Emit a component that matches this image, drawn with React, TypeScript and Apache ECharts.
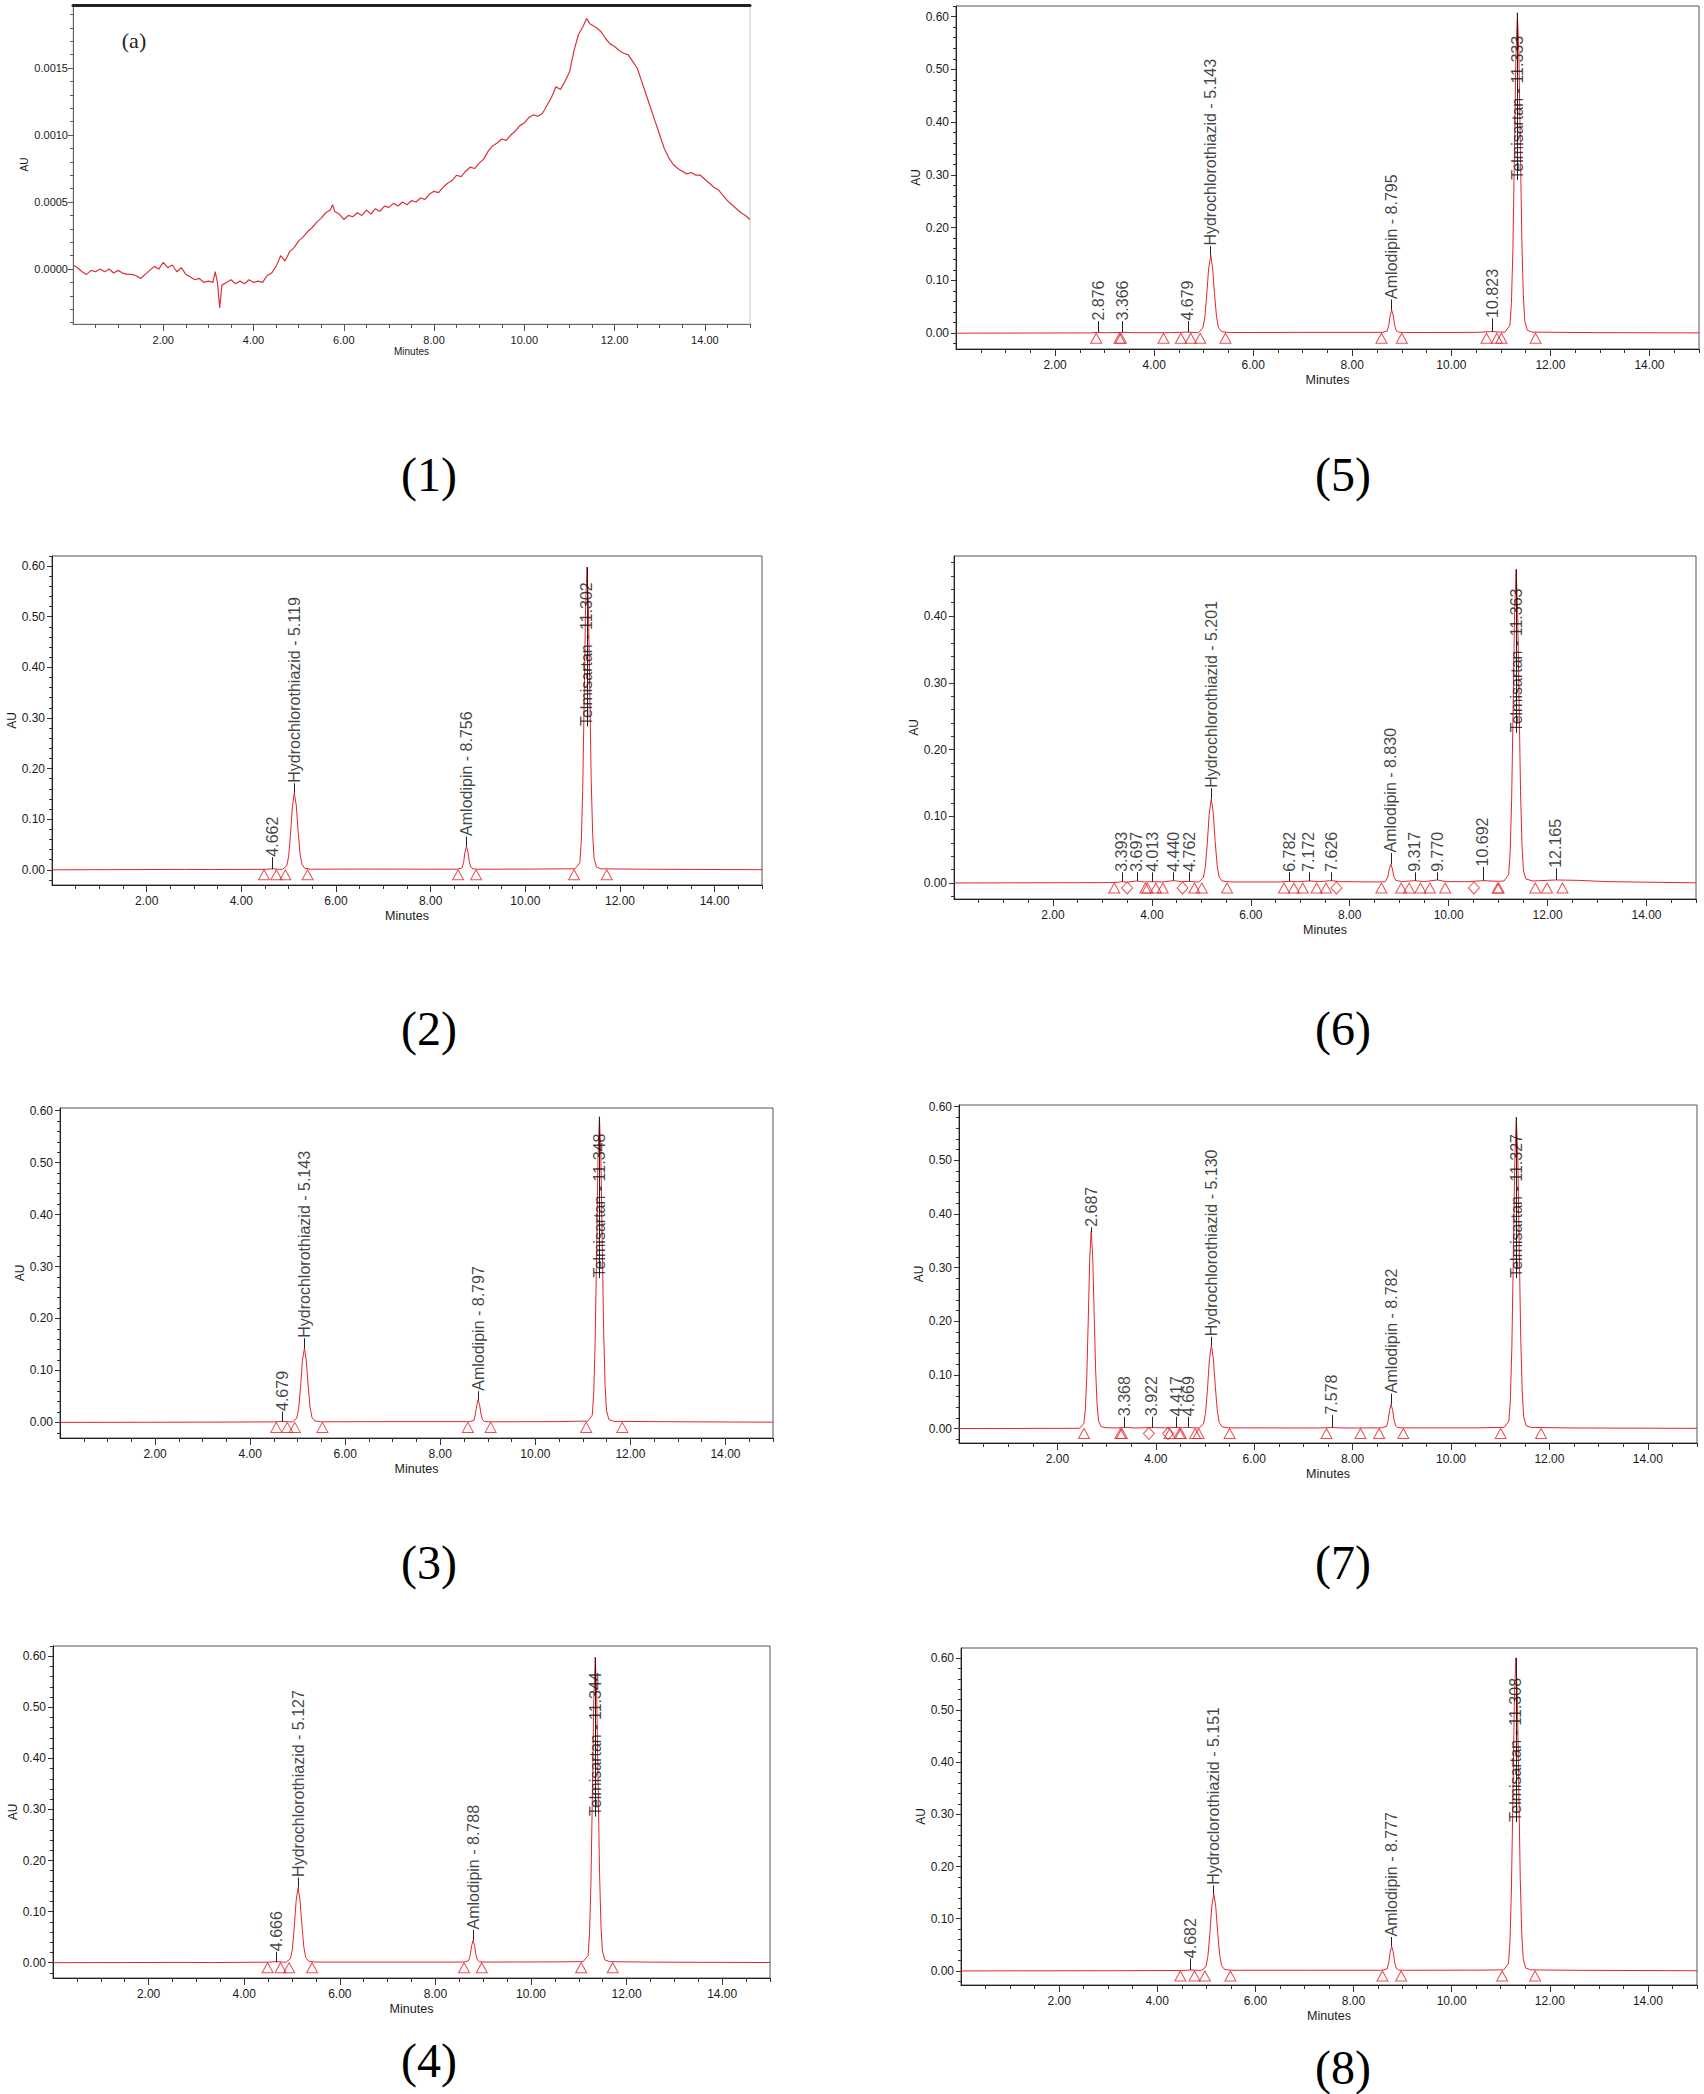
import React, { useEffect, useRef } from "react";
import * as echarts from "echarts";

// ---------- tick values ----------
const X_MAJOR = [2, 4, 6, 8, 10, 12, 14];
const X_MINOR = [0.5, 1, 1.5, 2, 2.5, 3, 3.5, 4, 4.5, 5, 5.5, 6, 6.5, 7, 7.5, 8, 8.5, 9, 9.5, 10, 10.5, 11, 11.5, 12, 12.5, 13, 13.5, 14, 14.5, 15];
const Y_MAJOR = [0, 0.1, 0.2, 0.3, 0.4, 0.5, 0.6];
const Y_MINOR = [-0.02, 0, 0.02, 0.04, 0.06, 0.08, 0.1, 0.12, 0.14, 0.16, 0.18, 0.2, 0.22, 0.24, 0.26, 0.28, 0.3, 0.32, 0.34, 0.36, 0.38, 0.4, 0.42, 0.44, 0.46, 0.48, 0.5, 0.52, 0.54, 0.56, 0.58, 0.6, 0.62];
const Y1_MAJOR = [0, 0.0005, 0.001, 0.0015];
const Y1_MINOR = [-0.0004, -0.0003, -0.0002, -0.0001, 0, 0.0001, 0.0002, 0.0003, 0.0004, 0.0005, 0.0006, 0.0007, 0.0008, 0.0009, 0.001, 0.0011, 0.0012, 0.0013, 0.0014, 0.0015, 0.0016, 0.0017, 0.0018, 0.0019];

// ---------- panel (1): blank ----------
const p1Trace = [
  [0, 0.00003], [0.1, 0.00001], [0.2, -0.00002], [0.3, -0.00004], [0.4, -0.00001], [0.5, -0.00002], [0.6, 0.0], [0.7, -0.00002], [0.8, 0.0], [0.9, -0.00003],
  [1.0, -0.00001], [1.1, -0.00003], [1.2, -0.00004], [1.3, -0.00004], [1.4, -0.00005], [1.5, -0.00007], [1.6, -0.00004], [1.7, -0.00001], [1.8, 0.00002], [1.9, 0.0],
  [2.0, 0.00005], [2.1, 0.00001], [2.2, 0.00003], [2.3, -0.00002], [2.4, 0.00001], [2.5, -0.00004], [2.6, -0.00006], [2.7, -0.00008], [2.8, -0.00007], [2.9, -0.0001],
  [3.0, -0.00009], [3.1, -0.0001], [3.15, -0.00002], [3.2, -0.0001], [3.25, -0.00029], [3.3, -0.00012], [3.4, -0.0001], [3.5, -0.00008], [3.6, -0.00011], [3.7, -0.00009],
  [3.8, -0.00011], [3.9, -0.00008], [4.0, -0.0001], [4.1, -0.00009], [4.2, -0.0001], [4.3, -0.00005], [4.4, -0.00003], [4.5, 0.00002], [4.6, 0.0001], [4.7, 0.00006],
  [4.8, 0.00013], [4.9, 0.00016], [5.0, 0.00021], [5.1, 0.00024], [5.2, 0.00028], [5.3, 0.00031], [5.4, 0.00035], [5.5, 0.00038], [5.6, 0.00042], [5.7, 0.00044],
  [5.75, 0.00048], [5.8, 0.00043], [5.9, 0.00041], [6.0, 0.00037], [6.1, 0.0004], [6.2, 0.00039], [6.3, 0.00042], [6.4, 0.0004], [6.5, 0.00044], [6.6, 0.00041],
  [6.7, 0.00045], [6.8, 0.00043], [6.9, 0.00047], [7.0, 0.00046], [7.1, 0.00049], [7.2, 0.00047], [7.3, 0.0005], [7.4, 0.00048], [7.5, 0.00051], [7.6, 0.0005],
  [7.7, 0.00053], [7.8, 0.00052], [7.9, 0.00056], [8.0, 0.00058], [8.1, 0.00057], [8.2, 0.00061], [8.3, 0.00064], [8.4, 0.00066], [8.5, 0.0007], [8.6, 0.00069],
  [8.7, 0.00073], [8.8, 0.00076], [8.9, 0.00075], [9.0, 0.00079], [9.1, 0.00082], [9.2, 0.00088], [9.3, 0.00092], [9.4, 0.00094], [9.5, 0.00097], [9.6, 0.00096],
  [9.7, 0.001], [9.8, 0.00103], [9.9, 0.00107], [10.0, 0.00109], [10.1, 0.00113], [10.2, 0.00115], [10.3, 0.00114], [10.4, 0.00116], [10.5, 0.00122], [10.6, 0.00128],
  [10.7, 0.00136], [10.8, 0.00134], [10.9, 0.0014], [11.0, 0.00147], [11.1, 0.00163], [11.2, 0.00175], [11.3, 0.00181], [11.38, 0.00187], [11.45, 0.00183], [11.5, 0.00182],
  [11.6, 0.0018], [11.7, 0.00177], [11.8, 0.00172], [11.9, 0.00168], [12.0, 0.00166], [12.1, 0.00163], [12.2, 0.00161], [12.3, 0.0016], [12.4, 0.00155], [12.5, 0.0015],
  [12.6, 0.0014], [12.7, 0.0013], [12.8, 0.0012], [12.9, 0.0011], [13.0, 0.001], [13.1, 0.0009], [13.2, 0.00083], [13.3, 0.00078], [13.4, 0.00075], [13.5, 0.00073],
  [13.6, 0.00071], [13.7, 0.00072], [13.8, 0.0007], [13.9, 0.0007], [14.0, 0.00067], [14.1, 0.00064], [14.2, 0.00061], [14.3, 0.00059], [14.4, 0.00055], [14.5, 0.00051],
  [14.6, 0.00048], [14.7, 0.00045], [14.8, 0.00042], [14.9, 0.0004], [15.0, 0.00037],
];

// ---------- panel (2) ----------
const p2Trace = [
  [0, 0], [2.8, 0.0008], [3.3, 0.0005], [4.5, 0.001], [4.662, 0.002], [4.8, 0.001],
  [4.87, 0.001], [4.96, 0.008], [5.0, 0.027], [5.04, 0.071], [5.08, 0.126], [5.119, 0.152], [5.16, 0.128], [5.2, 0.076], [5.24, 0.032], [5.28, 0.011], [5.34, 0.003], [5.47, 0.0012],
  [6.5, 0.0015], [8.5, 0.0012],
  [8.56, 0.0012], [8.666, 0.004], [8.696, 0.015], [8.726, 0.035], [8.756, 0.046], [8.786, 0.036], [8.816, 0.017], [8.846, 0.0055], [8.896, 0.0018], [9.0, 0.0012],
  [10.2, 0.0015], [10.9, 0.002],
  [11.05, 0.002], [11.152, 0.014], [11.182, 0.056], [11.212, 0.157], [11.242, 0.329], [11.272, 0.515], [11.302, 0.598], [11.332, 0.523], [11.362, 0.35], [11.392, 0.176], [11.422, 0.072], [11.452, 0.023], [11.502, 0.0055], [11.6, 0.002],
  [12.5, 0.0012], [14.2, 0.0005], [15, 0.0003],
];
const p2Triangles = [4.48, 4.74, 4.93, 5.4, 8.58, 8.96, 11.03, 11.72];
const p2Labels = [
  { rt: 4.662, text: "4.662", from: 0.001, at: 0.025 },
  { rt: 5.119, text: "Hydrochlorothiazid - 5.119", from: 0.152, at: 0.171 },
  { rt: 8.756, text: "Amlodipin - 8.756", from: 0.046, at: 0.066 },
  { rt: 11.302, text: "Telmisartan - 11.302", from: 0.598, at: 0.283 },
];

// ---------- panel (3) ----------
const p3Trace = [
  [0, 0], [3, 0.0005], [4.5, 0.001], [4.679, 0.002], [4.82, 0.001],
  [4.89, 0.001], [4.98, 0.008], [5.02, 0.026], [5.06, 0.067], [5.1, 0.119], [5.143, 0.143], [5.18, 0.12], [5.22, 0.072], [5.26, 0.03], [5.3, 0.01], [5.36, 0.003], [5.5, 0.0012],
  [7, 0.0015], [8.55, 0.0015],
  [8.6, 0.0012], [8.707, 0.004], [8.737, 0.0145], [8.767, 0.033], [8.797, 0.044], [8.827, 0.034], [8.857, 0.016], [8.887, 0.0053], [8.937, 0.0017], [9.05, 0.0012],
  [10.5, 0.0015], [11.0, 0.0025],
  [11.1, 0.002], [11.198, 0.014], [11.228, 0.055], [11.258, 0.154], [11.288, 0.323], [11.318, 0.507], [11.348, 0.588], [11.378, 0.514], [11.408, 0.344], [11.438, 0.173], [11.468, 0.071], [11.498, 0.022], [11.548, 0.0055], [11.65, 0.002],
  [12.5, 0.0015], [14, 0.0008], [15, 0.0005],
];
const p3Triangles = [4.55, 4.78, 4.94, 5.52, 8.58, 9.06, 11.07, 11.83];
const p3Labels = [
  { rt: 4.679, text: "4.679", from: 0.001, at: 0.021 },
  { rt: 5.143, text: "Hydrochlorothiazid - 5.143", from: 0.143, at: 0.162 },
  { rt: 8.797, text: "Amlodipin - 8.797", from: 0.044, at: 0.06 },
  { rt: 11.348, text: "Telmisartan - 11.348", from: 0.588, at: 0.278 },
];

// ---------- panel (4) ----------
const p4Trace = [
  [0, 0], [2.8, 0.0005], [3.3, 0.0002], [4.5, 0.001], [4.666, 0.002], [4.82, 0.001],
  [4.88, 0.001], [4.967, 0.008], [5.007, 0.026], [5.047, 0.069], [5.087, 0.122], [5.127, 0.147], [5.167, 0.123], [5.207, 0.074], [5.247, 0.031], [5.287, 0.01], [5.347, 0.003], [5.48, 0.0012],
  [7, 0.0012], [8.55, 0.0012],
  [8.59, 0.0012], [8.698, 0.004], [8.728, 0.0145], [8.758, 0.033], [8.788, 0.044], [8.818, 0.034], [8.848, 0.016], [8.878, 0.0053], [8.928, 0.0017], [9.04, 0.0012],
  [10.5, 0.0015], [11.0, 0.002],
  [11.09, 0.002], [11.194, 0.014], [11.224, 0.056], [11.254, 0.157], [11.284, 0.329], [11.314, 0.515], [11.344, 0.598], [11.374, 0.523], [11.404, 0.35], [11.434, 0.176], [11.464, 0.072], [11.494, 0.023], [11.544, 0.0055], [11.64, 0.002],
  [12.6, 0.001], [15, 0.0003],
];
const p4Triangles = [4.49, 4.76, 4.94, 5.42, 8.6, 8.97, 11.05, 11.71];
const p4Labels = [
  { rt: 4.666, text: "4.666", from: 0.001, at: 0.0215 },
  { rt: 5.127, text: "Hydrochlorothiazid - 5.127", from: 0.147, at: 0.167 },
  { rt: 8.788, text: "Amlodipin - 8.788", from: 0.044, at: 0.064 },
  { rt: 11.344, text: "Telmisartan - 11.344", from: 0.598, at: 0.286 },
];

// ---------- panel (5) ----------
const p5Trace = [
  [0, 0], [2.7, 0.0005], [2.876, 0.0015], [3.0, 0.0008], [3.366, 0.0015], [3.6, 0.001], [4.3, 0.001], [4.679, 0.002], [4.85, 0.001],
  [4.89, 0.001], [4.98, 0.009], [5.02, 0.027], [5.06, 0.07], [5.1, 0.122], [5.143, 0.148], [5.18, 0.124], [5.22, 0.073], [5.26, 0.031], [5.3, 0.01], [5.36, 0.003], [5.5, 0.0012],
  [7.0, 0.0015], [8.5, 0.0015],
  [8.6, 0.0015], [8.705, 0.004], [8.735, 0.014], [8.765, 0.033], [8.795, 0.044], [8.825, 0.034], [8.855, 0.016], [8.885, 0.005], [8.935, 0.002], [9.05, 0.0012],
  [10.5, 0.0015], [10.823, 0.003], [11.0, 0.002],
  [11.08, 0.002], [11.183, 0.015], [11.213, 0.056], [11.243, 0.159], [11.273, 0.334], [11.303, 0.523], [11.333, 0.607], [11.363, 0.531], [11.393, 0.355], [11.423, 0.179], [11.453, 0.073], [11.483, 0.023], [11.533, 0.0055], [11.63, 0.002],
  [13.0, 0.001], [15, 0.0005],
];
const p5Triangles = [2.83, 3.3, 3.33, 4.19, 4.54, 4.74, 4.93, 5.44, 8.59, 9.0, 10.71, 10.92, 11.01, 11.7];
const p5Labels = [
  { rt: 2.876, text: "2.876", from: 0.0015, at: 0.023 },
  { rt: 3.366, text: "3.366", from: 0.0015, at: 0.023 },
  { rt: 4.679, text: "4.679", from: 0.002, at: 0.023 },
  { rt: 5.143, text: "Hydrochlorothiazid - 5.143", from: 0.148, at: 0.165 },
  { rt: 8.795, text: "Amlodipin - 8.795", from: 0.044, at: 0.064 },
  { rt: 10.823, text: "10.823", from: 0.003, at: 0.028 },
  { rt: 11.333, text: "Telmisartan - 11.333", from: 0.607, at: 0.29 },
];

// ---------- panel (6) ----------
const p6Trace = [
  [0, 0], [3.0, 0.0005], [3.3, 0.001], [3.393, 0.002], [3.5, 0.0012], [3.697, 0.003], [3.85, 0.0015], [4.013, 0.002], [4.2, 0.0015], [4.44, 0.0035], [4.6, 0.002], [4.762, 0.0025], [4.9, 0.0015],
  [4.95, 0.0015], [5.04, 0.008], [5.08, 0.023], [5.12, 0.059], [5.16, 0.104], [5.201, 0.126], [5.24, 0.106], [5.28, 0.062], [5.32, 0.026], [5.36, 0.009], [5.42, 0.003], [5.6, 0.0015],
  [6.6, 0.0015], [6.782, 0.0025], [6.95, 0.0018], [7.172, 0.003], [7.4, 0.002], [7.626, 0.0035], [7.8, 0.002], [8.6, 0.0015],
  [8.72, 0.002], [8.77, 0.009], [8.8, 0.021], [8.83, 0.028], [8.86, 0.022], [8.89, 0.01], [8.93, 0.004], [9.05, 0.002], [9.317, 0.0035], [9.5, 0.002], [9.77, 0.0045], [9.95, 0.002],
  [10.4, 0.002], [10.692, 0.0035], [11.0, 0.0025],
  [11.12, 0.003], [11.213, 0.013], [11.243, 0.045], [11.273, 0.124], [11.303, 0.26], [11.333, 0.405], [11.363, 0.47], [11.393, 0.41], [11.423, 0.275], [11.453, 0.137], [11.483, 0.056], [11.513, 0.018], [11.56, 0.006], [11.7, 0.003],
  [12.0, 0.004], [12.165, 0.0045], [12.6, 0.004], [13.2, 0.002], [15, 0.0002],
];
const p6Triangles = [3.24, 3.87, 3.91, 4.08, 4.22, 4.86, 5.01, 5.52, 6.67, 6.87, 7.05, 7.33, 7.52, 8.64, 9.04, 9.2, 9.43, 9.62, 9.93, 10.99, 11.01, 11.75, 11.99, 12.3];
const p6Diamonds = [3.5, 4.62, 7.73, 10.51];
const p6Labels = [
  { rt: 3.393, text: "3.393", from: 0.002, at: 0.016 },
  { rt: 3.697, text: "3.697", from: 0.003, at: 0.016 },
  { rt: 4.013, text: "4.013", from: 0.002, at: 0.016 },
  { rt: 4.44, text: "4.440", from: 0.0035, at: 0.016 },
  { rt: 4.762, text: "4.762", from: 0.0025, at: 0.016 },
  { rt: 5.201, text: "Hydrochlorothiazid - 5.201", from: 0.126, at: 0.142 },
  { rt: 6.782, text: "6.782", from: 0.0025, at: 0.016 },
  { rt: 7.172, text: "7.172", from: 0.003, at: 0.016 },
  { rt: 7.626, text: "7.626", from: 0.0035, at: 0.016 },
  { rt: 8.83, text: "Amlodipin - 8.830", from: 0.028, at: 0.045 },
  { rt: 9.317, text: "9.317", from: 0.0035, at: 0.016 },
  { rt: 9.77, text: "9.770", from: 0.0045, at: 0.016 },
  { rt: 10.692, text: "10.692", from: 0.0035, at: 0.024 },
  { rt: 11.363, text: "Telmisartan - 11.363", from: 0.47, at: 0.225 },
  { rt: 12.165, text: "12.165", from: 0.0045, at: 0.022 },
];

// ---------- panel (7) ----------
const p7Trace = [
  [0, 0], [2.3, 0.0003],
  [2.45, 0.0005], [2.537, 0.009], [2.567, 0.034], [2.597, 0.096], [2.627, 0.202], [2.657, 0.317], [2.687, 0.368], [2.717, 0.322], [2.747, 0.215], [2.777, 0.109], [2.807, 0.044], [2.837, 0.014], [2.887, 0.0035], [2.99, 0.0015],
  [3.2, 0.001], [3.368, 0.002], [3.6, 0.001], [3.922, 0.0018], [4.2, 0.0012], [4.417, 0.002], [4.55, 0.0015], [4.669, 0.002], [4.8, 0.0012],
  [4.88, 0.001], [4.97, 0.0085], [5.01, 0.028], [5.05, 0.073], [5.09, 0.129], [5.13, 0.155], [5.17, 0.13], [5.21, 0.078], [5.25, 0.033], [5.29, 0.011], [5.35, 0.003], [5.48, 0.0012],
  [7.3, 0.001], [7.578, 0.0018], [7.8, 0.001], [8.5, 0.0012],
  [8.58, 0.0012], [8.692, 0.004], [8.722, 0.015], [8.752, 0.034], [8.782, 0.045], [8.812, 0.035], [8.842, 0.017], [8.872, 0.0054], [8.922, 0.0017], [9.03, 0.0012],
  [10.5, 0.0012], [11.0, 0.002],
  [11.08, 0.002], [11.177, 0.014], [11.207, 0.054], [11.237, 0.152], [11.267, 0.319], [11.297, 0.5], [11.327, 0.58], [11.357, 0.508], [11.387, 0.339], [11.417, 0.171], [11.447, 0.07], [11.477, 0.022], [11.527, 0.0052], [11.63, 0.002],
  [12.5, 0.001], [15, 0.0003],
];
const p7Triangles = [2.54, 3.28, 3.31, 4.28, 4.48, 4.51, 4.8, 4.87, 5.5, 7.47, 8.16, 8.54, 9.03, 11.01, 11.83];
const p7Diamonds = [3.86, 4.25];
const p7Labels = [
  { rt: 2.687, text: "2.687", from: 0.366, at: 0.375 },
  { rt: 3.368, text: "3.368", from: 0.002, at: 0.022 },
  { rt: 3.922, text: "3.922", from: 0.0018, at: 0.022 },
  { rt: 4.417, text: "4.417", from: 0.002, at: 0.022 },
  { rt: 4.669, text: "4.669", from: 0.002, at: 0.022 },
  { rt: 5.13, text: "Hydrochlorothiazid - 5.130", from: 0.155, at: 0.171 },
  { rt: 7.578, text: "7.578", from: 0.0018, at: 0.025 },
  { rt: 8.782, text: "Amlodipin - 8.782", from: 0.045, at: 0.065 },
  { rt: 11.327, text: "Telmisartan - 11.327", from: 0.58, at: 0.28 },
];

// ---------- panel (8) ----------
const p8Trace = [
  [0, 0], [3, 0.0003], [4.5, 0.0008], [4.682, 0.0018], [4.85, 0.001],
  [4.9, 0.001], [4.991, 0.008], [5.031, 0.027], [5.071, 0.07], [5.111, 0.123], [5.151, 0.148], [5.191, 0.124], [5.231, 0.074], [5.271, 0.031], [5.311, 0.01], [5.371, 0.003], [5.5, 0.0012],
  [7, 0.0012], [8.55, 0.0012],
  [8.58, 0.0012], [8.687, 0.0042], [8.717, 0.0155], [8.747, 0.036], [8.777, 0.047], [8.807, 0.037], [8.837, 0.0175], [8.867, 0.0056], [8.917, 0.0018], [9.03, 0.0012],
  [10.6, 0.0015], [11.0, 0.002],
  [11.06, 0.002], [11.158, 0.014], [11.188, 0.056], [11.218, 0.157], [11.248, 0.33], [11.278, 0.517], [11.308, 0.6], [11.338, 0.525], [11.368, 0.351], [11.398, 0.177], [11.428, 0.072], [11.458, 0.023], [11.508, 0.0054], [11.61, 0.002],
  [12.5, 0.0012], [15, 0.0003],
];
const p8Triangles = [4.47, 4.76, 4.97, 5.49, 8.59, 8.97, 11.03, 11.7];
const p8Labels = [
  { rt: 4.682, text: "4.682", from: 0.0018, at: 0.0235 },
  { rt: 5.151, text: "Hydroclorothiazid - 5.151", from: 0.148, at: 0.164 },
  { rt: 8.777, text: "Amlodipin - 8.777", from: 0.047, at: 0.065 },
  { rt: 11.308, text: "Telmisartan - 11.308", from: 0.6, at: 0.285 },
];

// ---------- panel data, in panel-number order ----------
const PANELS = [
  { trace: p1Trace, tri: [], dia: [], labels: [] },
  { trace: p2Trace, tri: p2Triangles, dia: [], labels: p2Labels },
  { trace: p3Trace, tri: p3Triangles, dia: [], labels: p3Labels },
  { trace: p4Trace, tri: p4Triangles, dia: [], labels: p4Labels },
  { trace: p5Trace, tri: p5Triangles, dia: [], labels: p5Labels },
  { trace: p6Trace, tri: p6Triangles, dia: p6Diamonds, labels: p6Labels },
  { trace: p7Trace, tri: p7Triangles, dia: p7Diamonds, labels: p7Labels },
  { trace: p8Trace, tri: p8Triangles, dia: [], labels: p8Labels },
];

// ---------- layout (pixels) ----------
const LAYOUT = [
  { box: [73, 5, 677, 319], yMin: -0.00041, yMax: 0.00197, cap: "(1)", capXY: [429, 474] },
  { box: [52, 556, 710, 329], yMin: -0.03, yMax: 0.62, cap: "(2)", capXY: [429, 1028] },
  { box: [60, 1108, 713, 330], yMin: -0.03, yMax: 0.605, cap: "(3)", capXY: [429, 1562] },
  { box: [53, 1646, 717, 332], yMin: -0.03, yMax: 0.62, cap: "(4)", capXY: [429, 2060] },
  { box: [956, 6, 743, 343], yMin: -0.03, yMax: 0.62, cap: "(5)", capXY: [1343, 474] },
  { box: [954, 556, 742, 343], yMin: -0.024, yMax: 0.49, cap: "(6)", capXY: [1343, 1028] },
  { box: [959, 1105, 738, 338], yMin: -0.027, yMax: 0.603, cap: "(7)", capXY: [1343, 1562] },
  { box: [961, 1648, 736, 337], yMin: -0.027, yMax: 0.619, cap: "(8)", capXY: [1343, 2067] },
];

const RED = "#e3262e";
const SANS = "'Liberation Sans', Arial, Helvetica, sans-serif";
const SERIF = "'Liberation Serif', 'Times New Roman', serif";
const TXT = "#1a1a1a";

function buildOption() {
  const grid: any[] = [];
  const xAxis: any[] = [];
  const yAxis: any[] = [];
  const series: any[] = [];
  const graphic: any[] = [];

  PANELS.forEach((p, i) => {
    const L = LAYOUT[i];
    const first = i === 0;
    const tickFont = first ? 11 : 12;
    const tickColor = first ? "#555" : "#333";
    grid.push({
      left: L.box[0], top: L.box[1], width: L.box[2], height: L.box[3],
      show: true, borderColor: first ? "#c8c8c8" : "#555", borderWidth: 1, backgroundColor: "transparent",
    });
    xAxis.push({
      gridIndex: i, type: "value", min: 0, max: 15, position: "bottom",
      name: "Minutes", nameLocation: "middle", nameGap: first ? 22 : 24,
      nameTextStyle: { fontFamily: SANS, fontSize: first ? 10 : 12.5, color: TXT },
      axisLine: { show: true, onZero: false, lineStyle: { color: first ? "#666" : "#222", width: 1 } },
      axisTick: { show: true, customValues: X_MAJOR, length: 7, lineStyle: { color: tickColor, width: 1 } },
      axisLabel: {
        show: true, customValues: X_MAJOR, margin: 10, fontSize: tickFont, fontFamily: SANS, color: TXT,
        formatter: (v: number) => v.toFixed(2),
      },
      splitLine: { show: false },
    });
    xAxis.push({
      gridIndex: i, type: "value", min: 0, max: 15, position: "bottom",
      axisLine: { show: false, onZero: false },
      axisTick: { show: true, customValues: X_MINOR, length: 4, lineStyle: { color: tickColor, width: 1 } },
      axisLabel: { show: false }, splitLine: { show: false },
    });
    yAxis.push({
      gridIndex: i, type: "value", min: L.yMin, max: L.yMax, position: "left",
      name: "AU", nameLocation: "middle", nameGap: first ? 44 : 34, nameRotate: 90,
      nameTextStyle: { fontFamily: SANS, fontSize: first ? 10 : 12, color: TXT },
      axisLine: { show: true, onZero: false, lineStyle: { color: first ? "#666" : "#222", width: 1 } },
      axisTick: { show: true, customValues: first ? Y1_MAJOR : Y_MAJOR, length: 5, lineStyle: { color: tickColor, width: 1 } },
      axisLabel: {
        show: true, customValues: first ? Y1_MAJOR : Y_MAJOR, margin: first ? 5 : 7, fontSize: tickFont, fontFamily: SANS, color: TXT,
        formatter: (v: number) => (first ? v.toFixed(4) : v.toFixed(2)),
      },
      splitLine: { show: false },
    });
    yAxis.push({
      gridIndex: i, type: "value", min: L.yMin, max: L.yMax, position: "left",
      axisLine: { show: false, onZero: false },
      axisTick: { show: true, customValues: first ? Y1_MINOR : Y_MINOR, length: 3, lineStyle: { color: tickColor, width: 1 } },
      axisLabel: { show: false }, splitLine: { show: false },
    });

    const xi = 2 * i;
    const yi = 2 * i;
    series.push({
      type: "line", xAxisIndex: xi, yAxisIndex: yi, data: p.trace, symbol: "none", showSymbol: false,
      lineStyle: { color: first ? "#d9333b" : RED, width: first ? 1.2 : 1 }, silent: true, z: 2, clip: true,
    });
    if (p.tri.length) {
      series.push({
        type: "scatter", xAxisIndex: xi, yAxisIndex: yi, data: p.tri.map((x) => [x, 0]),
        symbol: "triangle", symbolSize: [11, 10], symbolOffset: [0, 5],
        itemStyle: { color: "rgba(255,255,255,0)", borderColor: RED, borderWidth: 1 }, silent: true, z: 3,
      });
    }
    if (p.dia.length) {
      series.push({
        type: "scatter", xAxisIndex: xi, yAxisIndex: yi, data: p.dia.map((x) => [x, 0]),
        symbol: "diamond", symbolSize: [11, 12], symbolOffset: [0, 5],
        itemStyle: { color: "rgba(255,255,255,0)", borderColor: RED, borderWidth: 1 }, silent: true, z: 3,
      });
    }
    if (p.labels.length) {
      const labs = p.labels;
      series.push({
        type: "scatter", xAxisIndex: xi, yAxisIndex: yi, data: labs.map((l) => [l.rt, l.at]),
        symbolSize: 1, itemStyle: { color: "rgba(0,0,0,0)" }, silent: true, z: 5,
        label: {
          show: true, position: "top", distance: 0, rotate: 90, align: "left", verticalAlign: "middle",
          fontSize: 16, fontFamily: SANS, color: "#111",
          formatter: (pr: any) => labs[pr.dataIndex].text,
        },
        markLine: {
          silent: true, symbol: ["none", "none"], label: { show: false },
          lineStyle: { color: "#222", width: 1, type: "solid" },
          emphasis: { disabled: true },
          data: labs.map((l) => [{ coord: [l.rt, l.from] }, { coord: [l.rt, l.at] }]),
        },
      });
    }
    graphic.push({
      type: "text", x: L.capXY[0], y: L.capXY[1],
      style: {
        text: L.cap, fontSize: 48, fontFamily: SERIF, fill: "#000",
        align: "center", verticalAlign: "middle", textAlign: "center", textVerticalAlign: "middle",
      },
    });
  });

  // thick top line of panel (1)
  xAxis.push({
    gridIndex: 0, type: "value", min: 0, max: 15, position: "top",
    axisLine: { show: true, onZero: false, lineStyle: { color: "#222", width: 3 } },
    axisTick: { show: false }, axisLabel: { show: false }, splitLine: { show: false },
  });
  graphic.push({
    type: "text", x: 134, y: 40,
    style: {
      text: "(a)", fontSize: 22, fontFamily: SERIF, fill: "#222",
      align: "center", verticalAlign: "middle", textAlign: "center", textVerticalAlign: "middle",
    },
  });

  return { animation: false, backgroundColor: "#ffffff", grid, xAxis, yAxis, series, graphic };
}

export default function App() {
  const ref = useRef<HTMLDivElement>(null);
  useEffect(() => {
    if (!ref.current) return;
    const chart = echarts.init(ref.current, undefined, { renderer: "svg", width: 1704, height: 2094 });
    chart.setOption(buildOption() as any);
    return () => chart.dispose();
  }, []);
  return (
    <div
      ref={ref}
      style={{ position: "absolute", left: 0, top: 0, width: 1704, height: 2094, background: "#fff" }}
    />
  );
}
